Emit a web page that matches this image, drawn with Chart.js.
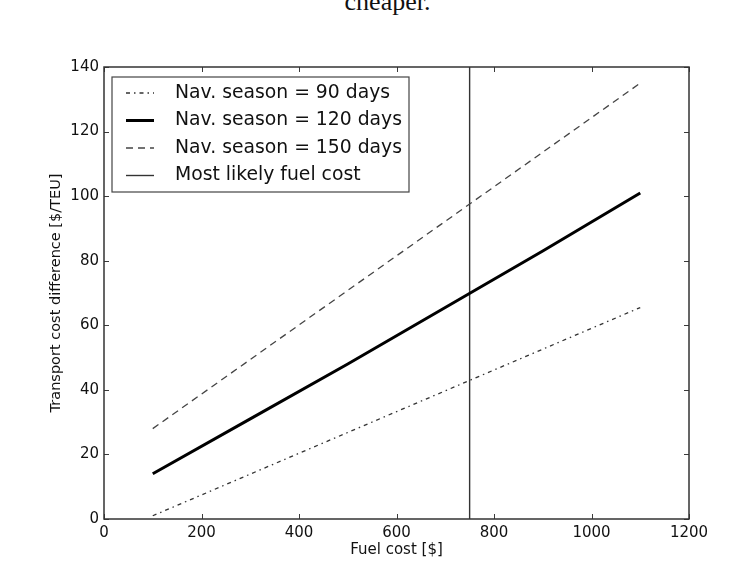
<!DOCTYPE html>
<html>
<head>
<meta charset="utf-8">
<script src="https://cdn.jsdelivr.net/npm/chart.js@4.4.1/dist/chart.umd.min.js"></script>
<style>
  html, body { margin: 0; padding: 0; background: #fff; }
  #wrap { position: relative; width: 750px; height: 568px; overflow: hidden; }
  #cap { position: absolute; left: 0; width: 775px; top: -11px; text-align: center;
         font-family: "Liberation Serif", "DejaVu Serif", serif; font-size: 26px; line-height: 26px; color: #111; }
  canvas { position: absolute; left: 0; top: 0; }
</style>
</head>
<body>
<div id="wrap">
  <div id="cap">cheaper.</div>
  <canvas id="c" width="750" height="568"></canvas>
</div>
<script>
// ---- data ----
const fuelCost   = [100, 300, 500, 700, 900, 1100];
const season90   = [1, 13.9, 26.8, 39.7, 52.6, 65.5];
const season120  = [14, 31, 48, 65.5, 83, 101];
const season150  = [28, 49.4, 70.8, 92.2, 113.6, 135];
const likelyFuelCost = 750;
const likelyRange = [0, 140];
const xTicks = [0, 200, 400, 600, 800, 1000, 1200];
const yTicks = [0, 20, 40, 60, 80, 100, 120, 140];
const seriesLabels = ['Nav. season = 90 days', 'Nav. season = 120 days', 'Nav. season = 150 days', 'Most likely fuel cost'];
const xTitle = 'Fuel cost [$]';
const yTitle = 'Transport cost difference [$/TEU]';

const pts = (xs, ys) => xs.map((x, i) => ({x: x, y: ys[i]}));
const FONT = '"DejaVu Sans", sans-serif';

const frameAndTicks = {
  id: 'frameAndTicks',
  afterDatasetsDraw(chart) {
    const {ctx, chartArea: a, scales} = chart;
    ctx.save();
    ctx.strokeStyle = '#3a3a3a';
    ctx.lineWidth = 1;
    const L = 5;
    ctx.beginPath();
    scales.x.ticks.forEach(t => {
      const px = Math.round(scales.x.getPixelForValue(t.value)) + 0.5;
      ctx.moveTo(px, a.bottom); ctx.lineTo(px, a.bottom - L);
      ctx.moveTo(px, a.top); ctx.lineTo(px, a.top + L);
    });
    scales.y.ticks.forEach(t => {
      const py = Math.round(scales.y.getPixelForValue(t.value)) + 0.5;
      ctx.moveTo(a.left, py); ctx.lineTo(a.left + L, py);
      ctx.moveTo(a.right, py); ctx.lineTo(a.right - L, py);
    });
    ctx.stroke();
    ctx.lineWidth = 1.5;
    ctx.strokeStyle = '#333';
    ctx.strokeRect(a.left, a.top, a.right - a.left, a.bottom - a.top);
    ctx.restore();
  },
  afterDraw(chart) {
    const {ctx, chartArea: a} = chart;
    const bx = a.left + 8, by = a.top + 10, bw = 297, bh = 115;
    ctx.save();
    ctx.fillStyle = '#fff';
    ctx.fillRect(bx, by, bw, bh);
    ctx.strokeStyle = '#444';
    ctx.lineWidth = 1.2;
    ctx.strokeRect(bx, by, bw, bh);
    ctx.font = '18.8px ' + FONT;
    ctx.textBaseline = 'middle';
    ctx.fillStyle = '#111';
    chart.data.datasets.forEach((ds, i) => {
      const cy = by + 16 + i * 27.5;
      ctx.save();
      ctx.strokeStyle = ds.borderColor;
      ctx.lineWidth = ds.borderWidth;
      ctx.setLineDash(ds.borderDash || []);
      ctx.beginPath();
      ctx.moveTo(bx + 14, cy); ctx.lineTo(bx + 42, cy);
      ctx.stroke();
      ctx.restore();
      ctx.fillText(ds.label, bx + 63, cy);
    });
    ctx.restore();
  }
};

new Chart(document.getElementById('c'), {
  type: 'scatter',
  data: {
    datasets: [
      { label: seriesLabels[0], data: pts(fuelCost, season90), showLine: true,
        borderColor: '#333', borderWidth: 1.3, borderDash: [4, 4, 1.5, 4], pointRadius: 0 },
      { label: seriesLabels[1], data: pts(fuelCost, season120), showLine: true,
        borderColor: '#000', borderWidth: 3, borderDash: [], pointRadius: 0 },
      { label: seriesLabels[2], data: pts(fuelCost, season150), showLine: true,
        borderColor: '#444', borderWidth: 1.3, borderDash: [7, 5], pointRadius: 0 },
      { label: seriesLabels[3], data: likelyRange.map(y => ({x: likelyFuelCost, y: y})), showLine: true,
        borderColor: '#333', borderWidth: 1.4, borderDash: [], pointRadius: 0 }
    ]
  },
  options: {
    responsive: false,
    animation: false,
    events: [],
    layout: { padding: { left: 0, top: 67, right: 61, bottom: 0 } },
    plugins: { legend: { display: false }, tooltip: { enabled: false }, title: { display: false } },
    scales: {
      x: {
        type: 'linear', min: 0, max: 1200,
        afterBuildTicks: s => { s.ticks = xTicks.map(v => ({value: v})); },
        afterFit: s => { s.height = 49; },
        grid: { display: false, drawTicks: false },
        border: { display: false },
        ticks: { padding: 5, color: '#111', font: { family: FONT, size: 15 }, callback: v => String(v) },
        title: { display: true, text: xTitle, color: '#111', padding: { top: 0, bottom: 9 },
                 font: { family: FONT, size: 15 } }
      },
      y: {
        type: 'linear', min: 0, max: 140,
        afterBuildTicks: s => { s.ticks = yTicks.map(v => ({value: v})); },
        afterFit: s => { s.width = 104; },
        grid: { display: false, drawTicks: false },
        border: { display: false },
        ticks: { padding: 5, color: '#111', font: { family: FONT, size: 15 }, callback: v => String(v) },
        title: { display: true, text: yTitle, color: '#111', padding: { top: 48, bottom: 0 },
                 font: { family: FONT, size: 14.5 } }
      }
    }
  },
  plugins: [frameAndTicks]
});
</script>
</body>
</html>
